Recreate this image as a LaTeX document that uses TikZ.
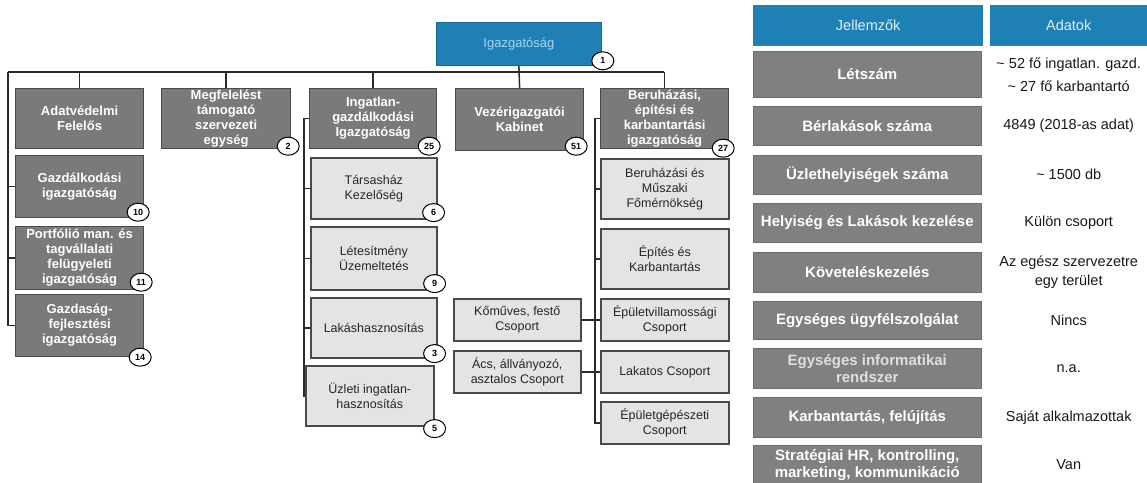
\documentclass[tikz,border=0pt]{standalone}
\usepackage{fontspec}
\setmainfont{Liberation Sans}
\usetikzlibrary{shapes.geometric}

\definecolor{orgblue}{HTML}{1E80B4}
\definecolor{unitdark}{HTML}{7A7A7A}
\definecolor{unitlight}{HTML}{E4E4E4}
\definecolor{unitedge}{HTML}{4A4A4A}
\definecolor{rowgray}{HTML}{808080}
\definecolor{linecol}{HTML}{2B2B2B}
\definecolor{toptext}{HTML}{A9D6EE}

\tikzset{
  dims/.style 2 args={minimum width=#1pt, minimum height=#2pt},
  unit/.style={rectangle, anchor=north west, inner sep=1pt, align=center},
  topunit/.style={unit, fill=orgblue, draw=orgblue!80!black, line width=0.8pt,
    text=toptext, font=\fontsize{13}{15}\selectfont},
  darkunit/.style={unit, fill=unitdark, draw=unitedge, line width=1.2pt,
    text=white, font=\bfseries\fontsize{13}{15}\selectfont},
  lightunit/.style={unit, fill=unitlight, draw=unitedge, line width=1.6pt,
    text=black!85, font=\fontsize{12.5}{15}\selectfont},
  badge/.style={ellipse, draw=black, line width=1pt, fill=white, inner sep=0pt,
    minimum width=22pt, minimum height=18pt, font=\bfseries\fontsize{9}{9}\selectfont},
  link/.style={draw=linecol, line width=1.5pt},
  hdr/.style={rectangle, anchor=north west, inner sep=1pt, fill=orgblue,
    text=white!88!orgblue, font=\fontsize{14.5}{16}\selectfont, minimum height=41pt},
  rowcell/.style={rectangle, anchor=north west, inner sep=1pt, align=center,
    fill=rowgray, draw=rowgray!85!black, line width=0.6pt, text=white,
    font=\bfseries\fontsize{15}{17}\selectfont, minimum width=228pt},
  valcell/.style={align=center, inner sep=1pt, text=black!90,
    font=\fontsize{14.5}{19}\selectfont}
}

\begin{document}
\begin{tikzpicture}[x=1pt, y=-1pt]
\useasboundingbox (0,0) rectangle (1147,482);
\fill[white] (0,0) rectangle (1147,482);

% ---------- organisation chart: boxes ----------
\node[topunit, dims={165}{43}] (top) at (436,22) {Igazgatóság};

\node[darkunit, dims={128}{60}] (adat) at (15,88) {Adatvédelmi\\Felelős};
\node[darkunit, dims={129}{60}] (meg)  at (161,88) {Megfelelést\\támogató\\szervezeti\\egység};
\node[darkunit, dims={127}{60}] (ing)  at (309,88) {Ingatlan-\\gazdálkodási\\Igazgatóság};
\node[darkunit, dims={128}{62}] (vez)  at (455,88) {Vezérigazgatói\\Kabinet};
\node[darkunit, dims={128}{60}] (ber)  at (600,88) {Beruházási,\\építési és\\karbantartási\\igazgatóság};

\node[darkunit, dims={128}{62}] (gazd) at (15,155) {Gazdálkodási\\igazgatóság};
\node[darkunit, dims={128}{63}] (port) at (15,226) {Portfólió man. és\\tagvállalati\\felügyeleti\\igazgatóság};
\node[darkunit, dims={128}{62}] (gfej) at (15,294) {Gazdaság-\\fejlesztési\\igazgatóság};

\node[lightunit, dims={126}{61}] (tars) at (310,157) {Társasház\\Kezelőség};
\node[lightunit, dims={126}{63}] (letes) at (310,226) {Létesítmény\\Üzemeltetés};
\node[lightunit, dims={126}{60}] (lakas) at (310,297) {Lakáshasznosítás};
\node[lightunit, dims={128}{60}] (uzl) at (305,365) {Üzleti ingatlan-\\hasznosítás};

\node[lightunit, dims={128}{60}] (fom)  at (600,158) {Beruházási és\\Műszaki\\Főmérnökség};
\node[lightunit, dims={128}{60}] (epit) at (600,228) {Építés és\\Karbantartás};
\node[lightunit, dims={128}{42}] (vill) at (600,298) {Épületvillamossági\\Csoport};
\node[lightunit, dims={128}{42}] (lak)  at (600,350) {Lakatos Csoport};
\node[lightunit, dims={128}{42}] (gep)  at (600,401) {Épületgépészeti\\Csoport};

\node[lightunit, dims={127}{42}] (komu) at (453,298) {Kőműves, festő\\Csoport};
\node[lightunit, dims={127}{42}] (acs)  at (453,350) {Ács, állványozó,\\asztalos Csoport};

% ---------- organisation chart: connectors ----------
\coordinate (busL) at (8,72);
\coordinate (busR) at (664,72);
\coordinate (ingx) at (304,0);
\coordinate (berx) at (595,0);

\draw[link] (busL) -- (busR);
\draw[link] (top.south) -- (vez.north);
\draw[link] (adat.north) -- (adat.north |- busL);
\draw[link] (meg.north) -- (meg.north |- busL);
\draw[link] (ing.north) -- (ing.north |- busL);
\draw[link] (ber.north) -- (ber.north |- busL);

\draw[link] (busL) |- (gfej.west);
\draw[link] (gazd.west -| busL) -- (gazd.west);
\draw[link] (port.west -| busL) -- (port.west);

\draw[link] (ing.west) -- (ing.west -| ingx) |- (uzl.west);
\draw[link] (tars.west -| ingx) -- (tars.west);
\draw[link] (letes.west -| ingx) -- (letes.west);
\draw[link] (lakas.west -| ingx) -- (lakas.west);

\draw[link] (ber.west) -- (ber.west -| berx) |- (gep.west);
\draw[link] (fom.west -| berx) -- (fom.west);
\draw[link] (epit.west -| berx) -- (epit.west);
\draw[link] (komu.east) -- (vill.west);
\draw[link] (acs.east) -- (lak.west);

% ---------- headcount badges ----------
\node[badge] (n1)  at ([shift={(1,-5)}]top.south east) {1};
\node[badge] (n2)  at ([shift={(-3,-3)}]meg.south east) {2};
\node[badge] (n25) at ([shift={(-8,-3)}]ing.south east) {25};
\node[badge] (n51) at ([shift={(-8,-5)}]vez.south east) {51};
\node[badge] (n27) at ([shift={(-6,-1)}]ber.south east) {27};
\node[badge] (n10) at ([shift={(-6,-6)}]gazd.south east) {10};
\node[badge] (n11) at ([shift={(-3,-8)}]port.south east) {11};
\node[badge] (n14) at ([shift={(-4,0)}]gfej.south east) {14};
\node[badge] (n6)  at ([shift={(-4,-7)}]tars.south east) {6};
\node[badge] (n9)  at ([shift={(-3,-7)}]letes.south east) {9};
\node[badge] (n3)  at ([shift={(-3,-5)}]lakas.south east) {3};
\node[badge] (n5)  at ([shift={(0,2)}]uzl.south east) {5};

% ---------- characteristics table ----------
\node[hdr, minimum width=230pt] (jel) at (753,5) {Jellemzők};
\node[hdr, minimum width=157pt] (adt) at (990,5) {Adatok};

\node[rowcell, minimum height=46pt] (r1) at (753,51)  {Létszám};
\node[rowcell, minimum height=39pt] (r2) at (753,106) {Bérlakások száma};
\node[rowcell, minimum height=39pt] (r3) at (753,155) {Üzlethelyiségek száma};
\node[rowcell, minimum height=39pt] (r4) at (753,203) {Helyiség és Lakások kezelése};
\node[rowcell, minimum height=40pt] (r5) at (753,252) {Követeléskezelés};
\node[rowcell, minimum height=38pt] (r6) at (753,301) {Egységes ügyfélszolgálat};
\node[rowcell, minimum height=40pt, text=white!75!rowgray] (r7) at (753,348) {Egységes informatikai\\rendszer};
\node[rowcell, minimum height=40pt] (r8) at (753,397) {Karbantartás, felújítás};
\node[rowcell, minimum height=39pt] (r9) at (753,445) {Stratégiai HR, kontrolling,\\marketing, kommunikáció};

\node[valcell, font=\fontsize{14.5}{23}\selectfont] (v1) at (adt |- r1) {\textasciitilde\ 52 fő ingatlan. gazd.\\\textasciitilde\ 27 fő karbantartó};
\node[valcell] (v2) at (adt |- r2) {4849 (2018-as adat)};
\node[valcell] (v3) at (adt |- r3) {\textasciitilde\ 1500 db};
\node[valcell] (v4) at (adt |- r4) {Külön csoport};
\node[valcell] (v5) at (adt |- r5) {Az egész szervezetre\\egy terület};
\node[valcell] (v6) at (adt |- r6) {Nincs};
\node[valcell] (v7) at (adt |- r7) {n.a.};
\node[valcell] (v8) at (adt |- r8) {Saját alkalmazottak};
\node[valcell] (v9) at (adt |- r9) {Van};
\end{tikzpicture}
\end{document}
